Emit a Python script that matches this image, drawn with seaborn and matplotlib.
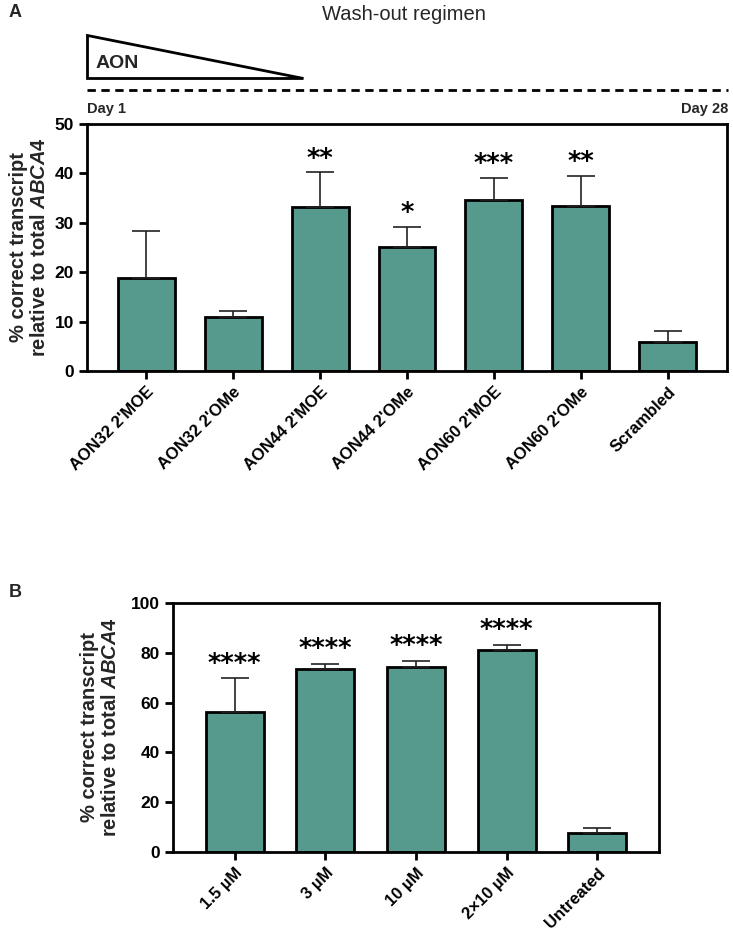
import numpy as np
import pandas as pd
import matplotlib
matplotlib.use("Agg")
import matplotlib.pyplot as plt
from matplotlib.patches import Polygon
from matplotlib.lines import Line2D
import seaborn as sns

# Panel A: wash-out regimen
groups_a = ["AON32 2'MOE", "AON32 2'OMe", "AON44 2'MOE", "AON44 2'OMe",
            "AON60 2'MOE", "AON60 2'OMe", "Scrambled"]
mean_a = [18.8, 11.0, 33.1, 25.0, 34.6, 33.4, 5.8]
sd_a = [9.5, 1.2, 7.1, 4.1, 4.5, 6.1, 2.2]
stars_a = ["", "", "**", "*", "***", "**", ""]

# Panel B: dose
groups_b = ["1.5 µM", "3 µM", "10 µM", "2×10 µM", "Untreated"]
mean_b = [56.1, 73.3, 74.1, 81.3, 7.6]
sd_b = [13.6, 2.2, 2.6, 2.0, 2.1]
stars_b = ["****", "****", "****", "****", ""]

TEAL = "#569A8E"

sns.set_theme(style="white")
plt.rcParams["font.family"] = ["Liberation Sans", "DejaVu Sans"]
plt.rcParams["mathtext.fontset"] = "custom"
plt.rcParams["mathtext.it"] = "Liberation Sans:italic:bold"
plt.rcParams["mathtext.rm"] = "Liberation Sans:bold"

W, H = 733, 938
fig = plt.figure(figsize=(W / 100, H / 100), dpi=100)

ylab = "% correct transcript\nrelative to total $\\mathit{ABCA4}$"


def px(x0, y0, x1, y1):
    # figure rect from pixel box (top-left origin)
    return [x0 / W, 1 - y1 / H, (x1 - x0) / W, (y1 - y0) / H]


def draw_panel(ax, groups, means, sds, stars, ymax, step, width, star_gap):
    df = pd.DataFrame({"group": groups, "value": means})
    sns.barplot(data=df, x="group", y="value", order=groups, color=TEAL,
                saturation=1, width=width, edgecolor="black", linewidth=2,
                ax=ax, errorbar=None)
    xs = np.arange(len(groups))
    ax.errorbar(xs, means, yerr=[np.zeros(len(sds)), sds], fmt="none",
                ecolor="#222222", elinewidth=1.2, capsize=10, capthick=1.2,
                zorder=1)
    for x, m, s, st in zip(xs, means, sds, stars):
        if st:
            ax.text(x, m + s + star_gap, st, ha="center", va="center",
                    fontsize=18.5, fontweight="bold", color="black",
                    family="DejaVu Sans")
    ax.set_xlim(-0.68, len(groups) - 0.32)
    ax.set_ylim(0, ymax)
    ax.set_yticks(np.arange(0, ymax + 1, step))
    ax.set_xlabel("")
    ax.set_ylabel(ylab, fontsize=14.5, fontweight="bold", linespacing=1.1)
    for sp in ax.spines.values():
        sp.set_linewidth(2)
        sp.set_color("black")
    ax.tick_params(axis="both", direction="out", length=6, width=2,
                   colors="black", labelsize=12.5, bottom=True, left=True)
    for lab in ax.get_yticklabels():
        lab.set_fontweight("bold")
    ax.set_xticks(xs)
    ax.set_xticklabels(groups, rotation=45, ha="right",
                       rotation_mode="anchor", fontweight="bold",
                       fontsize=12)


ax_a = fig.add_axes(px(87, 124, 727, 371))
draw_panel(ax_a, groups_a, mean_a, sd_a, stars_a, 50, 10, 0.655, 2.6)
ax_a.yaxis.labelpad = 4

ax_b = fig.add_axes(px(173, 603, 659, 852))
draw_panel(ax_b, groups_b, mean_b, sd_b, stars_b, 100, 20, 0.64, 5.5)
ax_b.yaxis.labelpad = 8

# header of panel A
fig.text(9 / W, 1 - 4 / H, "A", fontsize=13, fontweight="bold", va="top")
fig.text(9 / W, 1 - 584 / H, "B", fontsize=13, fontweight="bold", va="top")
fig.text(404 / W, 1 - 14 / H, "Wash-out regimen", fontsize=14.5,
         ha="center", va="center")
tri = Polygon([(87 / W, 1 - 35 / H), (87 / W, 1 - 78 / H),
               (303 / W, 1 - 78 / H)], closed=True, facecolor="white",
              edgecolor="black", linewidth=2, transform=fig.transFigure)
fig.add_artist(tri)
fig.text(96 / W, 1 - 64 / H, "AON", fontsize=14, fontweight="bold",
         va="center")
fig.add_artist(Line2D([87 / W, 728 / W], [1 - 90 / H, 1 - 90 / H],
                      color="black", linewidth=2,
                      linestyle=(0, (3, 2)), transform=fig.transFigure))
fig.text(87 / W, 1 - 109 / H, "Day 1", fontsize=10.5, fontweight="bold",
         va="center")
fig.text(728 / W, 1 - 109 / H, "Day 28", fontsize=10.5, fontweight="bold",
         va="center", ha="right")

fig.savefig("out.png", dpi=100, facecolor="white")
